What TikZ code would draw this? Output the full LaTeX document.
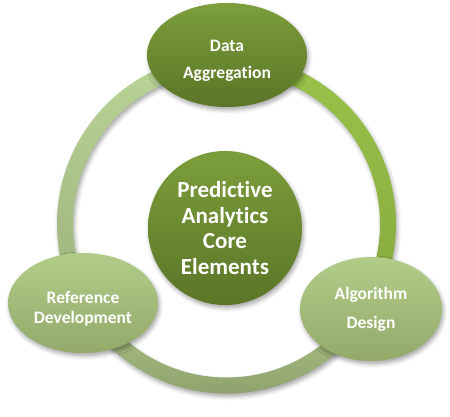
\documentclass[tikz,border=0pt]{standalone}
\usepackage{fontspec}
\setmainfont{Carlito}[Ligatures={NoCommon}]
\usetikzlibrary{shapes.geometric,shadows.blur,calc}
\definecolor{darkTop}{HTML}{7C9E3B}
\definecolor{darkBot}{HTML}{5A7527}
\definecolor{lightTop}{HTML}{B2CD89}
\definecolor{lightBot}{HTML}{92A96A}
\definecolor{ringLTop}{HTML}{B8D396}
\definecolor{ringLBot}{HTML}{98AD79}
\definecolor{ringRTop}{HTML}{98C249}
\definecolor{ringRBot}{HTML}{86A73E}
\definecolor{ringBTop}{HTML}{A9C083}
\definecolor{ringBBot}{HTML}{8DA06C}
\tikzset{
  softshadow/.style={blur shadow={shadow xshift=1.5pt,shadow yshift=-3pt,shadow blur radius=4pt,shadow opacity=35}},
  darkblob/.style={ellipse,inner sep=0pt,top color=darkTop,bottom color=darkBot,softshadow,
     text=white,align=center},
  lightblob/.style={ellipse,inner sep=0pt,top color=lightTop,bottom color=lightBot,softshadow,
     text=white,align=center},
}
\newcommand\ringseg[4]{%
  \shade[top color=#3,bottom color=#4,softshadow]
    ($(rc)+(#1:169.5)$) arc[start angle=#1,end angle=#2,radius=169.5]
    -- ($(rc)+(#2:153.5)$) arc[start angle=#2,end angle=#1,radius=153.5] -- cycle;}
\begin{document}
\begin{tikzpicture}[x=1pt,y=1pt]
\useasboundingbox (0,0) rectangle (450,416);
\coordinate (rc) at (226.5,192);
% ring segments
\ringseg{112}{222}{ringLTop}{ringLBot}
\ringseg{68}{-38}{ringRTop}{ringRBot}
\ringseg{218}{322}{ringBTop}{ringBBot}
% nodes
\node[darkblob,minimum width=160pt,minimum height=104pt,
  font={\bfseries\fontsize{17.5}{27}\selectfont}] (data) at (227,361)
  {\rule{0pt}{22pt}Data\\Aggregation};
\node[darkblob,circle,minimum size=154pt,
  font={\bfseries\fontsize{23}{25.5}\selectfont}] (core) at (225,188)
  {Predictive\\Analytics\\Core\\Elements};
\node[lightblob,minimum width=150pt,minimum height=100pt,
  font={\bfseries\fontsize{17.5}{19.5}\selectfont}] (ref) at (83,113)
  {\rule{0pt}{24pt}Reference\\Development};
\node[lightblob,minimum width=142pt,minimum height=104pt,
  font={\bfseries\fontsize{17.5}{29}\selectfont}] (alg) at (371,107)
  {Algorithm\\Design};
\end{tikzpicture}
\end{document}
